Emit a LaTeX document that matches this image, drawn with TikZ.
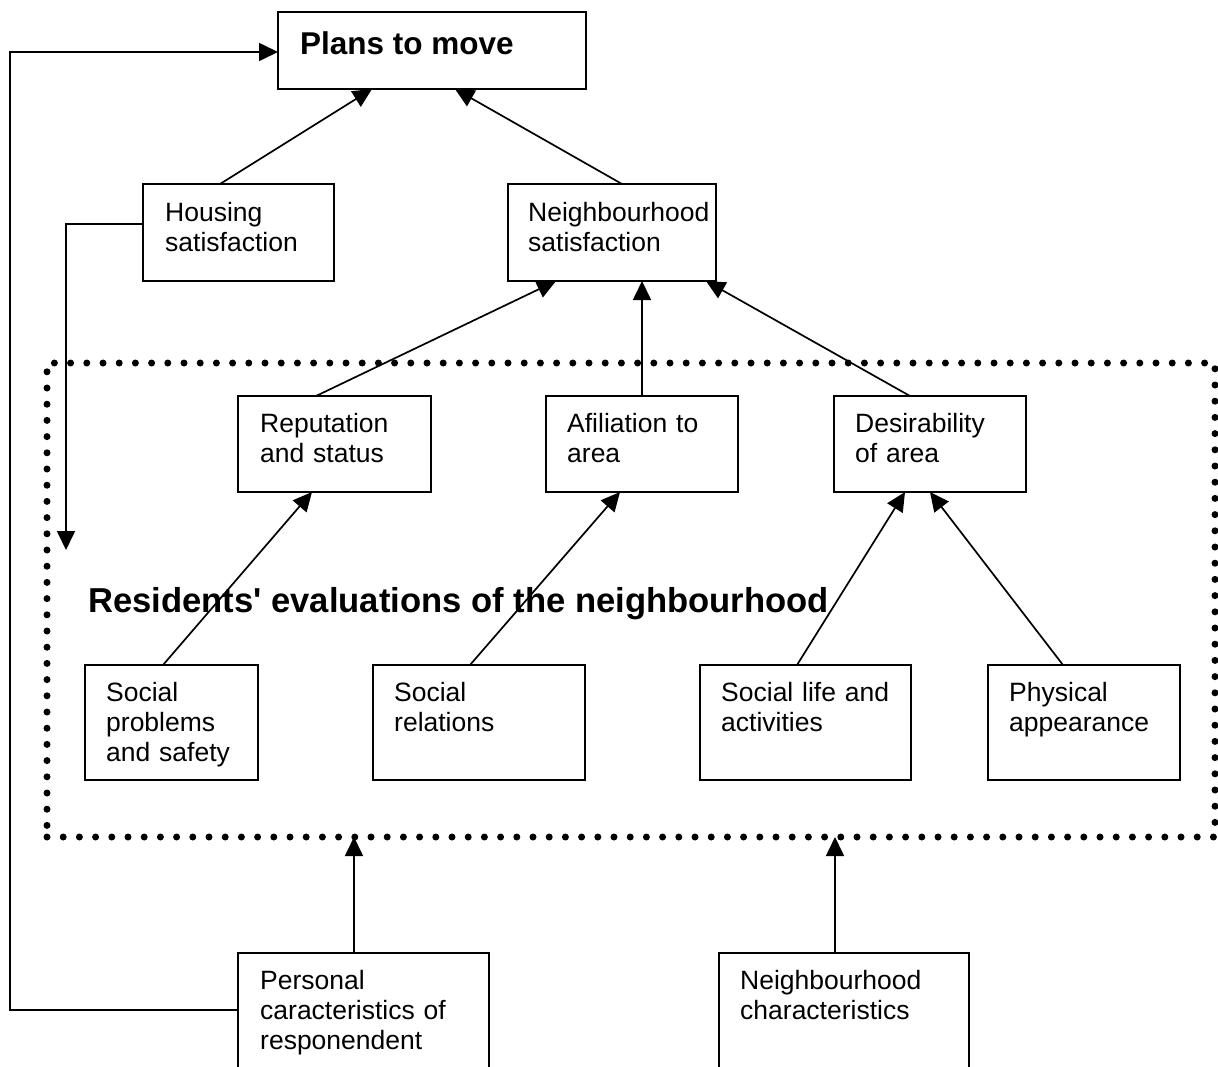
\documentclass[tikz,border=0pt]{standalone}
\usepackage{fontspec}
\setmainfont{Liberation Sans}[Ligatures=TeXOff]
\usetikzlibrary{arrows.meta,calc}
\begin{document}
\begin{tikzpicture}[x=1pt,y=-1pt,
  box/.style={draw, line width=2pt, inner sep=0pt, outer sep=0pt, anchor=north west},
  lbl/.style={anchor=base west, inner sep=0pt, text width=300pt, align=left,
    font=\fontsize{26.5}{30}\selectfont},
  ttl/.style={anchor=base west, inner sep=0pt, font=\bfseries\fontsize{34.6}{40}\selectfont},
  frm/.style={draw, line width=7pt, line cap=round, dash pattern=on 0pt off 16.2pt,
    inner sep=0pt, outer sep=0pt, anchor=north west},
  arr/.style={line width=1.7pt, -{Triangle[length=19pt,width=18pt]}}]
\useasboundingbox (0,0) rectangle (1218,1066);
\clip (0,0) rectangle (1218,1066);
\fill[white] (0,0) rectangle (1218,1066);

% dotted frame
\node[frm, minimum width=1168pt, minimum height=474pt] (ev) at (47,363) {};
\node[ttl] (evT) at (88,612) {Residents' evaluations of the neighbourhood};

% boxes
\node[box, minimum width=308pt, minimum height=77pt] (pm) at (278,12) {};
\node[ttl, font=\bfseries\fontsize{31.5}{36}\selectfont] (pmT) at ($(pm.north west)+(22,42)$) {Plans to move};

\node[box, minimum width=191pt, minimum height=97pt] (hs) at (143,184) {};
\node[lbl] (hsT) at ($(hs.north west)+(22,37)$) {Housing\\satisfaction};

\node[box, minimum width=208pt, minimum height=97pt] (ns) at (508,184) {};
\node[lbl] (nsT) at ($(ns.north west)+(20,37)$) {Neighbourhood\\satisfaction};

\node[box, minimum width=193pt, minimum height=96pt] (rs) at (238,396) {};
\node[lbl] (rsT) at ($(rs.north west)+(22,36)$) {Reputation\\and status};

\node[box, minimum width=192pt, minimum height=96pt] (aa) at (546,396) {};
\node[lbl] (aaT) at ($(aa.north west)+(21,36)$) {Afiliation to\\area};

\node[box, minimum width=192pt, minimum height=96pt] (da) at (834,396) {};
\node[lbl] (daT) at ($(da.north west)+(21,36)$) {Desirability\\of area};

\node[box, minimum width=173pt, minimum height=115pt] (sp) at (85,665) {};
\node[lbl] (spT) at ($(sp.north west)+(21,36)$) {Social\\problems\\and safety};

\node[box, minimum width=212pt, minimum height=115pt] (sr) at (373,665) {};
\node[lbl] (srT) at ($(sr.north west)+(21,36)$) {Social\\relations};

\node[box, minimum width=211pt, minimum height=115pt] (sl) at (700,665) {};
\node[lbl] (slT) at ($(sl.north west)+(21,36)$) {Social life and\\activities};

\node[box, minimum width=192pt, minimum height=115pt] (pa) at (988,665) {};
\node[lbl] (paT) at ($(pa.north west)+(21,36)$) {Physical\\appearance};

\node[box, minimum width=251pt, minimum height=150pt] (pc) at (238,953) {};
\node[lbl] (pcT) at ($(pc.north west)+(22,36)$) {Personal\\caracteristics of\\responendent};

\node[box, minimum width=250pt, minimum height=150pt] (nc) at (719,953) {};
\node[lbl] (ncT) at ($(nc.north west)+(21,36)$) {Neighbourhood\\characteristics};

% connectors
\draw[arr] ($(hs.north west)+(77,0)$) -- ($(pm.south west)+(94,0)$);
\draw[arr] ($(ns.north west)+(114,0)$) -- ($(pm.south west)+(177,0)$);

\draw[arr] ($(rs.north west)+(78,0)$) -- ($(ns.south west)+(48,0)$);
\draw[arr] ($(aa.north west)+(96,0)$) -- ($(ns.south west)+(134,0)$);
\draw[arr] ($(da.north west)+(76,0)$) -- ($(ns.south west)+(198,0)$);

\draw[arr] ($(sp.north west)+(78,0)$) -- ($(rs.south west)+(74,0)$);
\draw[arr] ($(sr.north west)+(97,0)$) -- ($(aa.south west)+(74,0)$);
\draw[arr] ($(sl.north west)+(97,0)$) -- ($(da.south west)+(71,0)$);
\draw[arr] ($(pa.north west)+(75,0)$) -- ($(da.south west)+(96,0)$);

\draw[arr] ($(pc.north west)+(116,0)$) -- ($(ev.south west)+(307,0)$);
\draw[arr] ($(nc.north west)+(116,0)$) -- ($(ev.south west)+(788,0)$);

\coordinate (hsEnd) at (66,550);
\draw[arr] ($(hs.north west)+(0,40)$) -| (hsEnd);

\coordinate (lc) at (10,52);
\draw[arr] ($(pc.north west)+(0,57)$) -| (lc) -- ($(pm.north west)+(0,40)$);
\end{tikzpicture}
\end{document}
